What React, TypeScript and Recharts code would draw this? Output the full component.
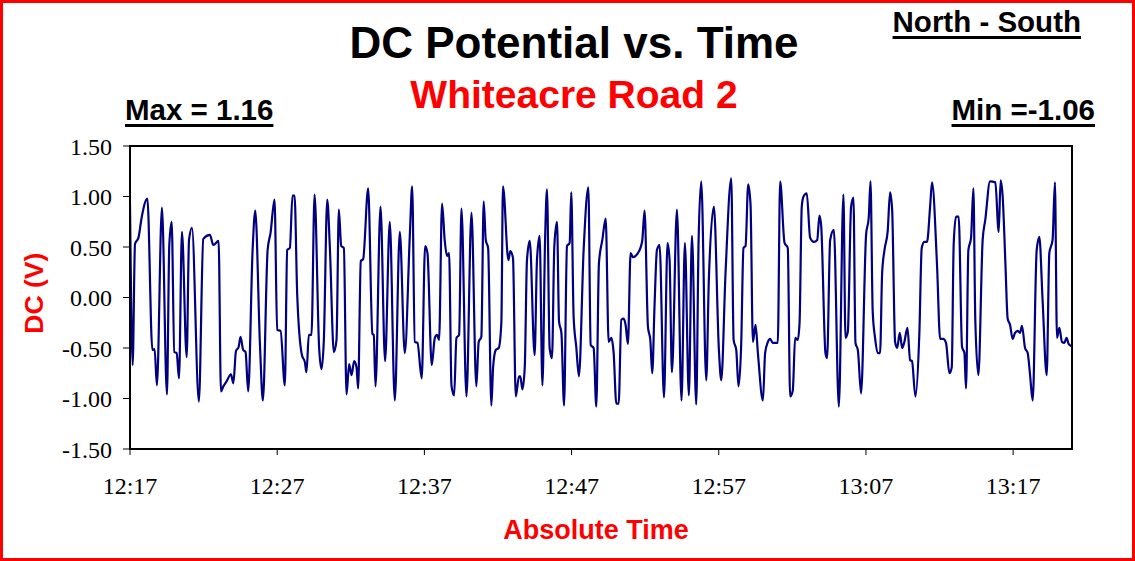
import React from 'react';
import { LineChart, Line, XAxis, YAxis, ReferenceArea } from 'recharts';

const timeTicks = [0, 10, 20, 30, 40, 50, 60];
const timeLabels = ['12:17', '12:27', '12:37', '12:47', '12:57', '13:07', '13:17'];
const voltTicks = [-1.5, -1, -0.5, 0, 0.5, 1, 1.5];

// [minutes after 12:17, DC potential (V)]
const samples: [number, number][] = [
  [0, 0.92], [0.18, -0.67], [0.34, 0.53], [0.57, 0.59], [0.79, 0.79], [1.18, 0.98], [1.52, -0.52], [1.67, -0.51], [1.83, -0.87], [2.17, 0.89],
  [2.51, -0.96], [2.67, 0.52], [2.83, 0.75], [3.01, -0.54], [3.17, -0.55], [3.33, -0.8], [3.53, 0.65], [3.85, -0.59], [4.01, 0.57], [4.21, 0.69],
  [4.68, -1.03], [4.98, 0.58], [5.43, 0.62], [5.66, 0.52], [6.02, 0.56], [6.18, -0.93], [6.34, -0.88], [6.56, -0.83], [6.86, -0.76], [7.02, -0.85],
  [7.2, -0.53], [7.38, -0.49], [7.51, -0.39],
  [7.69, -0.52], [7.85, -0.54], [8.03, -0.93], [8.33, 0.47], [8.51, 0.86], [8.83, -0.47], [9.03, -1.02], [9.35, 0.47], [9.55, 0.64], [9.82, 0.97],
  [10.0, -0.32], [10.23, -0.33], [10.52, -0.87], [10.68, 0.47], [10.86, 0.49], [11.04, 1.01], [11.18, 1.01], [11.36, 0.03], [11.68, -0.57], [11.88, -0.64],
  [11.99, -0.74], [12.15, -0.37], [12.33, -0.37], [12.54, 1.02], [12.85, -0.5], [13.01, -0.71], [13.17, -0.42], [13.4, 0.97], [13.58, 0.49], [13.85, -0.54],
  [14.03, -0.42], [14.19, 0.87], [14.35, 0.51], [14.53, 0.49], [14.71, -0.96], [14.89, -0.66], [15.05, -0.77], [15.23, -0.63], [15.39, -0.69], [15.5, -0.9],
  [15.68, 0.36],
  [15.84, 0.38], [16.18, 1.08], [16.47, -0.36], [16.56, -0.37], [16.68, -0.88], [17.02, 0.9], [17.33, -0.63], [17.65, 0.75], [17.99, -1.02], [18.33, 0.65],
  [18.67, -0.55], [19.01, 0.61], [19.17, 1.1], [19.35, -0.44], [19.53, -0.45], [19.82, -0.8], [20.05, 0.51], [20.21, 0.44], [20.5, -0.67], [20.71, -0.4],
  [20.86, -0.37], [21.0, -0.42], [21.2, 0.93], [21.38, 0.57], [21.54, 0.41], [21.68, 0.44], [21.84, -0.87], [22.02, -0.97], [22.18, -0.4], [22.36, -0.37],
  [22.52, 0.88], [22.86, -0.98], [23.2, 0.84], [23.53, -0.88], [23.69, -0.44], [23.87, -0.39], [24.03, 0.95],
  [24.17, 0.57], [24.33, 0.49], [24.55, -1.07], [24.67, -0.69], [24.85, -0.52], [25.05, -0.5], [25.23, -0.25], [25.34, 1.1], [25.71, 0.37], [25.84, 0.46],
  [26.02, 0.39], [26.21, -0.98], [26.43, -0.78], [26.52, -0.78], [26.66, -0.91], [26.82, -0.69], [26.97, 0.37], [27.16, 0.56], [27.49, -0.57], [27.65, 0.37],
  [27.83, 0.61], [28.02, -0.87], [28.2, 0.57], [28.33, 1.07], [28.51, -0.5], [28.67, -0.6], [28.83, 0.51], [29.01, 0.75], [29.15, -0.24], [29.31, -0.35],
  [29.49, -1.07], [29.69, 0.51], [29.87, 0.54], [29.98, 1.04], [30.14, -0.19], [30.32, -0.49], [30.5, -0.78], [30.82, 0.47], [31.14, 1.09], [31.3, -0.47],
  [31.5, -0.5], [31.68, -1.08], [31.86, 0.34],
  [32.09, 0.57], [32.32, 0.78], [32.52, -0.44], [32.7, -0.4], [32.86, -0.55], [33.04, -1.05], [33.2, -1.05], [33.38, -0.22], [33.54, -0.21], [33.67, -0.27],
  [33.83, -0.46], [34.01, 0.44], [34.17, 0.4], [34.51, 0.44], [34.8, 0.56], [34.96, 0.86], [35.19, -0.29], [35.35, -0.42], [35.48, -0.75], [35.64, -0.07],
  [35.8, 0.47], [35.98, 0.52], [36.28, -0.99], [36.52, 0.54], [36.66, 0.37], [36.82, -0.74], [37.16, 0.87], [37.47, -1.02], [37.7, 0.54], [37.97, -0.97],
  [38.18, 0.61], [38.47, -1.06], [38.63, 0.56], [38.81, 1.15], [39.15, -0.82], [39.33, 0.19], [39.67, 0.9], [40.01, -0.52], [40.17, -0.82],
  [40.46, 0.24], [40.85, 1.18], [41.01, -0.42], [41.19, -0.52], [41.34, -0.88], [41.52, -0.49], [41.68, 0.49], [41.82, 0.51], [42.0, 1.12], [42.16, 0.92],
  [42.32, -0.44], [42.5, -0.27], [42.66, -0.55], [43.0, -1.02], [43.15, -0.55], [43.34, -0.44], [43.49, -0.41], [43.67, -0.45], [44.01, -0.45], [44.17, 1.15],
  [44.47, 0.54], [44.69, 0.49], [44.85, -0.98], [45.03, -0.92], [45.19, -0.4], [45.37, -0.42], [45.49, -0.25], [45.64, 0.9], [45.76, 1.0], [45.98, 1.03],
  [46.21, 0.59], [46.46, 0.55], [46.69, 0.57], [46.84, 0.81], [46.96, 0.71], [47.25, -0.55], [47.36, -0.6], [47.57, 0.57], [47.82, 0.67], [48.16, -1.08],
  [48.47, 1.02], [48.61, -0.4], [48.77, -0.34], [48.99, 0.9], [49.15, 0.99], [49.29, -0.45], [49.45, -0.52], [49.67, -0.95], [50.01, 0.62], [50.19, 0.79],
  [50.31, 1.15], [50.46, -0.14], [50.62, -0.4], [50.8, -0.55], [50.96, -0.55], [51.1, 0.24], [51.26, 0.47], [51.48, 0.66], [51.64, 1.04], [51.78, 0.87],
  [51.98, -0.44], [52.12, -0.5], [52.3, -0.35], [52.46, -0.5], [52.61, -0.44], [52.82, -0.3], [53.0, -0.62], [53.13, -0.63], [53.36, -0.98], [53.63, -0.35],
  [53.79, 0.49], [53.97, 0.55], [54.15, 0.55], [54.36, 0.9], [54.49, 1.14], [54.83, 0.32], [55.04, -0.41], [55.26, -0.41], [55.44, -0.45], [55.67, -0.75],
  [55.83, -0.69], [55.96, 0.52], [56.12, 0.8], [56.3, 0.8],
  [56.53, -0.49], [56.69, -0.55], [56.8, -0.9], [56.96, 0.47], [57.14, 0.59], [57.3, 1.08], [57.43, -0.22], [57.64, -0.77], [57.93, 0.57], [58.11, 0.77],
  [58.43, 1.15], [58.79, 1.14], [59.02, 0.65], [59.15, 1.16], [59.29, 1.0], [59.47, 0.36], [59.63, -0.21], [59.79, -0.27], [59.97, -0.41], [60.13, -0.35],
  [60.31, -0.33], [60.47, -0.35], [60.6, -0.28], [60.81, -0.5], [60.99, -0.55], [61.14, -0.75], [61.33, -1.02], [61.6, 0.47], [61.78, 0.6], [62.0, -0.02],
  [62.28, -0.77], [62.46, 0.44], [62.68, 0.57], [62.84, 1.14], [62.98, -0.4], [63.14, -0.3], [63.32, -0.44], [63.48, -0.45], [63.63, -0.4], [63.77, -0.46],
  [63.95, -0.48],
];

const data = samples.map(([t, v]) => ({ t, v }));

const sans = '"Liberation Sans", Arial, Helvetica, sans-serif';
const serif = '"Liberation Serif", "Times New Roman", serif';

const abs = (s: React.CSSProperties): React.CSSProperties => ({
  position: 'absolute',
  whiteSpace: 'nowrap',
  lineHeight: 1,
  fontFamily: sans,
  fontWeight: 700,
  ...s,
});

const underline: React.CSSProperties = {
  textDecoration: 'underline',
  textDecorationThickness: 3,
  textUnderlineOffset: 4,
};

export default function App() {
  return (
    <div style={{ position: 'absolute', left: 0, top: 0, width: 1135, height: 561, background: '#fff', overflow: 'hidden' }}>
      <div style={{ position: 'absolute', left: 0, top: 0 }}>
        <LineChart width={1135} height={561} data={data} margin={{ top: 146, right: 63, bottom: 52, left: 70 }}>
          <XAxis
            dataKey="t"
            type="number"
            domain={[0, 64]}
            ticks={timeTicks}
            tickFormatter={(v: number) => timeLabels[timeTicks.indexOf(v)] ?? ''}
            height={60}
            tickSize={6}
            tickMargin={22}
            axisLine={{ stroke: '#000', strokeWidth: 2 }}
            tickLine={{ stroke: '#000', strokeWidth: 1 }}
            tick={{ fill: '#000', fontSize: 24, fontFamily: serif }}
            allowDataOverflow
          />
          <YAxis
            type="number"
            domain={[-1.5, 1.5]}
            ticks={voltTicks}
            tickFormatter={(v: number) => v.toFixed(2)}
            width={60}
            tickSize={7}
            tickMargin={11}
            axisLine={{ stroke: '#000', strokeWidth: 2 }}
            tickLine={{ stroke: '#000', strokeWidth: 1 }}
            tick={{ fill: '#000', fontSize: 24, fontFamily: serif }}
            allowDataOverflow
          />
          <ReferenceArea x1={0} x2={64} y1={-1.5} y2={1.5} fill="none" fillOpacity={0} stroke="#000" strokeWidth={2} />
          <Line
            type="monotone"
            dataKey="v"
            stroke="#000080"
            strokeWidth={2.2}
            dot={false}
            isAnimationActive={false}
          />
        </LineChart>
      </div>
      <div style={abs({ left: 0, width: 1148, top: 21, textAlign: 'center', fontSize: 44, color: '#000' })}>DC Potential vs. Time</div>
      <div style={abs({ left: 0, width: 1148, top: 75, textAlign: 'center', fontSize: 39, color: '#ff0000' })}>Whiteacre Road 2</div>
      <div style={abs({ right: 1135 - 1081, top: 7, fontSize: 29.5, color: '#000', ...underline })}>North - South</div>
      <div style={abs({ left: 125, top: 95, fontSize: 29.5, color: '#000', ...underline })}>Max = 1.16</div>
      <div style={abs({ right: 1135 - 1095, top: 95, fontSize: 29.5, color: '#000', ...underline })}>Min =-1.06</div>
      <div style={abs({ left: 0, width: 1192, top: 517, textAlign: 'center', fontSize: 27, color: '#ff0000' })}>Absolute Time</div>
      <div style={abs({ left: 34 - 100, top: 293 - 13, width: 200, textAlign: 'center', fontSize: 26.5, color: '#ff0000', transform: 'rotate(-90deg)' })}>DC (V)</div>
      <div style={{ position: 'absolute', left: 0, top: 0, width: 1135, height: 561, boxSizing: 'border-box', border: '3px solid #ff0000', pointerEvents: 'none' }} />
    </div>
  );
}
